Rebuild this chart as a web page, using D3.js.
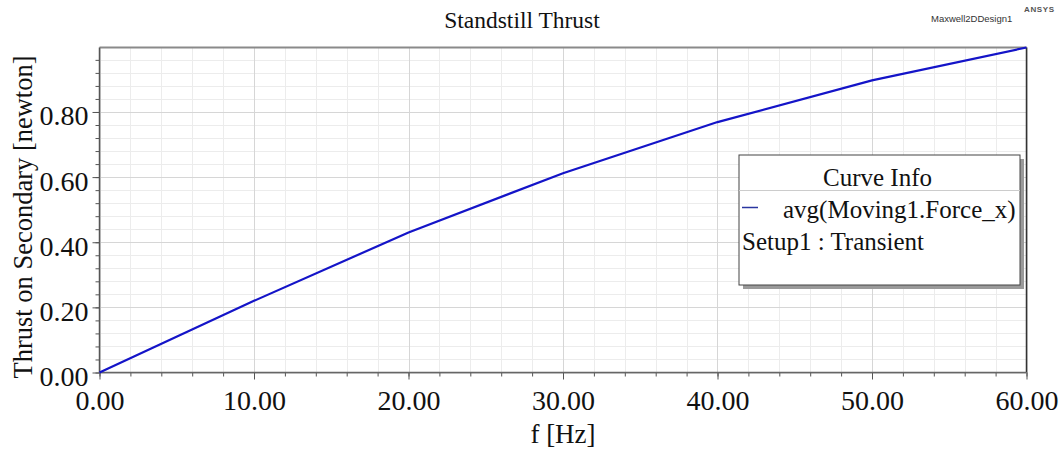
<!DOCTYPE html>
<html>
<head>
<meta charset="utf-8">
<script src="https://cdn.jsdelivr.net/npm/d3@7"></script>
<style>
  body { margin: 0; background: #fff; }
  svg { display: block; }
</style>
</head>
<body>
<svg width="1060" height="452"></svg>
<script>
// data
var freqs = [0, 10, 20, 30, 40, 50, 60];
var thrust = [0, 0.22, 0.43, 0.612, 0.769, 0.897, 0.998];
var xMajorTicks = [0, 10, 20, 30, 40, 50, 60];
var yMajorTicks = [0, 0.2, 0.4, 0.6, 0.8];
var legendLines = ['avg(Moving1.Force_x)', 'Setup1 : Transient'];

var svg = d3.select('svg');
var svgWidth = +svg.attr('width');

// plot box (not called "top": that name is taken by window.top)
var plotLeft = 99.5, plotRight = 1026.5, plotTop = 47.5, plotBottom = 372.5;
var serif = '"Liberation Serif", "Times New Roman", serif';
var sans = '"Liberation Sans", Arial, sans-serif';

var x = d3.scaleLinear().domain([0, 60]).range([plotLeft, plotRight]);
var y = d3.scaleLinear().domain([0, d3.max(thrust)]).range([plotBottom, plotTop]);

// minor steps: 5 per major
var xMinor = d3.range(0, 60.001, 2);
var yMinor = d3.range(0, d3.max(thrust), 0.04);

/**
    grid lines, minor first then major on top
**/
var grid = svg.append('g').attr('class', 'grid');
function vLines(vals, color) {
    grid.selectAll(null).data(vals).enter().append('line')
        .attr('x1', function(d) { return Math.round(x(d)) + 0.5; })
        .attr('x2', function(d) { return Math.round(x(d)) + 0.5; })
        .attr('y1', plotTop).attr('y2', plotBottom)
        .attr('stroke', color);
}
function hLines(vals, color) {
    grid.selectAll(null).data(vals).enter().append('line')
        .attr('y1', function(d) { return Math.round(y(d)) + 0.5; })
        .attr('y2', function(d) { return Math.round(y(d)) + 0.5; })
        .attr('x1', plotLeft).attr('x2', plotRight)
        .attr('stroke', color);
}
vLines(xMinor, '#ececec');
hLines(yMinor, '#ececec');
vLines(xMajorTicks, '#d6d6d6');
hLines(yMajorTicks, '#d6d6d6');

// axes with outer ticks
var fmt = d3.format('.2f');
var xAxisMinor = d3.axisBottom(x).tickValues(xMinor).tickSize(4).tickFormat('');
var xAxis = d3.axisBottom(x).tickValues(xMajorTicks).tickSize(7).tickFormat(fmt);
var yAxisMinor = d3.axisLeft(y).tickValues(yMinor).tickSize(4).tickFormat('');
var yAxis = d3.axisLeft(y).tickValues(yMajorTicks).tickSize(7).tickFormat(fmt);

svg.append('g').attr('transform', 'translate(0,' + plotBottom + ')').call(xAxisMinor);
var gx = svg.append('g').attr('transform', 'translate(0,' + plotBottom + ')').call(xAxis);
svg.append('g').attr('transform', 'translate(' + plotLeft + ',0)').call(yAxisMinor);
var gy = svg.append('g').attr('transform', 'translate(' + plotLeft + ',0)').call(yAxis);

svg.selectAll('.domain').remove();
svg.selectAll('.tick line').attr('stroke', '#555');
gx.selectAll('text')
    .attr('font-family', serif).attr('font-size', 28).attr('fill', '#111')
    .attr('dy', null).attr('y', 37);
gy.selectAll('text')
    .attr('font-family', serif).attr('font-size', 28).attr('fill', '#111')
    .attr('dy', null).attr('y', 13).attr('x', -11);

/**
    plot frame: top gray and thick, right dark
**/
svg.append('line').attr('x1', plotLeft).attr('x2', plotRight).attr('y1', plotTop).attr('y2', plotTop)
    .attr('stroke', '#8a8a8a').attr('stroke-width', 2);
svg.append('line').attr('x1', plotRight).attr('x2', plotRight).attr('y1', plotTop).attr('y2', plotBottom)
    .attr('stroke', '#333').attr('stroke-width', 1.5);
svg.append('line').attr('x1', plotLeft).attr('x2', plotRight).attr('y1', plotBottom).attr('y2', plotBottom)
    .attr('stroke', '#666').attr('stroke-width', 1.5);
svg.append('line').attr('x1', plotLeft).attr('x2', plotLeft).attr('y1', plotTop).attr('y2', plotBottom)
    .attr('stroke', '#555').attr('stroke-width', 1.5);

// the curve
var line = d3.line()
    .x(function(d, i) { return x(freqs[i]); })
    .y(function(d) { return y(d); });
svg.append('path')
    .datum(thrust)
    .attr('d', line)
    .attr('fill', 'none')
    .attr('stroke', '#1414c8')
    .attr('stroke-width', 2.2);

// titles
svg.append('text').attr('x', svgWidth / 2 - 8).attr('y', 28)
    .attr('text-anchor', 'middle').attr('font-family', serif).attr('font-size', 23.5)
    .attr('fill', '#111').text('Standstill Thrust');
svg.append('text').attr('x', (plotLeft + plotRight) / 2).attr('y', 443)
    .attr('text-anchor', 'middle').attr('font-family', serif).attr('font-size', 27)
    .attr('fill', '#111').text('f [Hz]');
svg.append('text').attr('transform', 'translate(32,' + 217 + ') rotate(-90)')
    .attr('text-anchor', 'middle').attr('font-family', serif).attr('font-size', 26.5)
    .attr('fill', '#111').text('Thrust on Secondary [newton]');
svg.append('text').attr('x', 931).attr('y', 21.5)
    .attr('font-family', sans).attr('font-size', 9.5).attr('fill', '#333')
    .text('Maxwell2DDesign1');
svg.append('text').attr('x', 1024).attr('y', 12)
    .attr('font-family', sans).attr('font-size', 8).attr('font-weight', 'bold')
    .attr('letter-spacing', 0.6).attr('fill', '#555').text('ANSYS');

/**
    legend box with drop shadow
**/
var lgX = 739, lgY = 155, lgW = 281, lgH = 130;
var legend = svg.append('g').attr('class', 'legend');
legend.append('rect').attr('x', lgX + 4).attr('y', lgY + 4).attr('width', lgW).attr('height', lgH)
    .attr('fill', '#9a9a9a');
legend.append('rect').attr('x', lgX).attr('y', lgY).attr('width', lgW).attr('height', lgH)
    .attr('fill', '#fff').attr('stroke', '#444').attr('stroke-width', 1);
legend.append('text').attr('x', lgX + lgW / 2 - 2).attr('y', lgY + 31)
    .attr('text-anchor', 'middle').attr('font-family', serif).attr('font-size', 25)
    .attr('fill', '#111').text('Curve Info');
legend.append('line').attr('x1', lgX).attr('x2', lgX + lgW).attr('y1', lgY + 35.5).attr('y2', lgY + 35.5)
    .attr('stroke', '#ccc');
legend.append('line').attr('x1', lgX + 3).attr('x2', lgX + 19).attr('y1', lgY + 52.5).attr('y2', lgY + 52.5)
    .attr('stroke', '#2a36a0').attr('stroke-width', 1.5);
legend.append('text').attr('x', lgX + 44).attr('y', lgY + 63)
    .attr('font-family', serif).attr('font-size', 25).attr('fill', '#111').text(legendLines[0]);
legend.append('text').attr('x', lgX + 3).attr('y', lgY + 95)
    .attr('font-family', serif).attr('font-size', 25).attr('fill', '#111').text(legendLines[1]);
</script>
</body>
</html>
